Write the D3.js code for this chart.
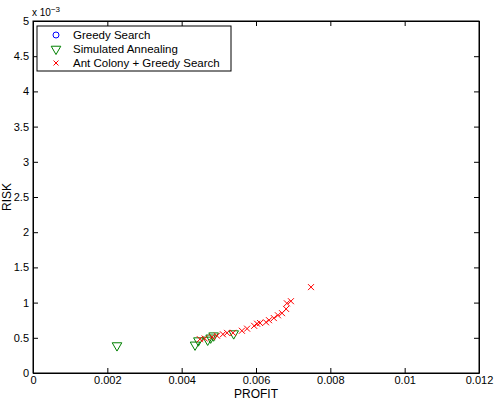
<!DOCTYPE html>
<html><head><meta charset="utf-8">
<script src="https://cdn.jsdelivr.net/npm/d3@7"></script>
<style>body{margin:0;background:#fff}svg{display:block}text{font-family:"Liberation Sans",Arial,sans-serif}</style>
</head><body><svg id="c" width="497" height="403"></svg>
<script>
const xTicks=[0,0.002,0.004,0.006,0.008,0.01,0.012];
const xTickLabels=["0","0.002","0.004","0.006","0.008","0.01","0.012"];
const yTicks=[0,0.5e-3,1e-3,1.5e-3,2e-3,2.5e-3,3e-3,3.5e-3,4e-3,4.5e-3,5e-3];
const yTickLabels=["0","0.5","1","1.5","2","2.5","3","3.5","4","4.5","5"];
const seriesNames=["Greedy Search","Simulated Annealing","Ant Colony + Greedy Search"];
const greedyX=[];
const greedyY=[];
const saX=[0.00226,0.00436,0.00445,0.00470,0.00478,0.00486,0.00540];
const saY=[0.39e-3,0.40e-3,0.46e-3,0.47e-3,0.50e-3,0.53e-3,0.56e-3];
const acoX=[0.00449,0.00462,0.00482,0.00495,0.00511,0.00522,0.00538,0.00562,0.00576,0.00595,0.00603,0.00611,0.00627,0.00635,0.00648,0.00659,0.00670,0.00681,0.00683,0.00694,0.00748];
const acoY=[0.48e-3,0.49e-3,0.51e-3,0.53e-3,0.55e-3,0.57e-3,0.57e-3,0.60e-3,0.63e-3,0.67e-3,0.70e-3,0.71e-3,0.72e-3,0.75e-3,0.78e-3,0.82e-3,0.85e-3,0.91e-3,0.99e-3,1.02e-3,1.22e-3];

const svg=d3.select("#c");
const L=33,R=479,T=21,B=373;
const x=d3.scaleLinear().domain([0,0.012]).range([L,R]);
const y=d3.scaleLinear().domain([0,5e-3]).range([B,T]);
const fs=11;

svg.append("rect").attr("x",L).attr("y",T).attr("width",R-L).attr("height",B-T).attr("fill","#fff").attr("stroke","#000").attr("stroke-width",1);

const xb=d3.axisBottom(x).tickValues(xTicks).tickFormat((d,i)=>xTickLabels[i]).tickSizeInner(-5).tickSizeOuter(0).tickPadding(3);
const gx=svg.append("g").attr("transform",`translate(0,${B})`).call(xb);
const xt=d3.axisTop(x).tickValues(xTicks).tickFormat("").tickSizeInner(-5).tickSizeOuter(0);
const gxt=svg.append("g").attr("transform",`translate(0,${T})`).call(xt);
const yl=d3.axisLeft(y).tickValues(yTicks).tickFormat((d,i)=>yTickLabels[i]).tickSizeInner(-5).tickSizeOuter(0).tickPadding(4);
const gy=svg.append("g").attr("transform",`translate(${L},0)`).call(yl);
const yr=d3.axisRight(y).tickValues(yTicks).tickFormat("").tickSizeInner(-5).tickSizeOuter(0);
const gyr=svg.append("g").attr("transform",`translate(${R},0)`).call(yr);
[gx,gxt,gy,gyr].forEach(g=>{g.select(".domain").attr("stroke","#000");g.selectAll("text").attr("font-size",fs).attr("font-family","Liberation Sans, Arial, sans-serif").attr("fill","#000");});

const ex=svg.append("text").attr("x",32).attr("y",16).attr("font-size",10);
ex.append("tspan").text("x 10");
ex.append("tspan").attr("dy",-4).attr("font-size",8).text("−3");

svg.append("text").attr("x",(L+R)/2).attr("y",398).attr("text-anchor","middle").attr("font-size",12).text("PROFIT");
svg.append("text").attr("transform",`translate(11,${(T+B)/2}) rotate(-90)`).attr("text-anchor","middle").attr("font-size",12).text("RISK");

const plot=svg.append("g");
plot.selectAll(".gs").data(greedyX.map((v,i)=>[v,greedyY[i]])).join("circle").attr("cx",d=>x(d[0])).attr("cy",d=>y(d[1])).attr("r",3).attr("fill","none").attr("stroke","#0000ff");
const tri=d3.symbol().type(d3.symbolTriangle).size(40);
plot.selectAll(".sa").data(saX.map((v,i)=>[v,saY[i]])).join("path").attr("d",tri).attr("transform",d=>`translate(${x(d[0])},${y(d[1])}) rotate(180)`).attr("fill","none").attr("stroke","#008000").attr("stroke-width",1);
const cr=3;
plot.selectAll(".aco").data(acoX.map((v,i)=>[v,acoY[i]])).join("path").attr("d",d=>{const cx=x(d[0]),cy=y(d[1]);return `M${cx-cr},${cy-cr}L${cx+cr},${cy+cr}M${cx-cr},${cy+cr}L${cx+cr},${cy-cr}`;}).attr("stroke","#ff0000").attr("stroke-width",1).attr("fill","none");

const lg=svg.append("g");
lg.append("rect").attr("x",37).attr("y",26).attr("width",194).attr("height",45).attr("fill","#fff").attr("stroke","#000");
const ly=[35,49,63];
lg.append("circle").attr("cx",56).attr("cy",ly[0]).attr("r",3).attr("fill","none").attr("stroke","#0000ff");
lg.append("path").attr("d",tri).attr("transform",`translate(56,${ly[1]}) rotate(180)`).attr("fill","none").attr("stroke","#008000");
lg.append("path").attr("d",`M${56-2.5},${ly[2]-2.5}L${56+2.5},${ly[2]+2.5}M${56-2.5},${ly[2]+2.5}L${56+2.5},${ly[2]-2.5}`).attr("stroke","#ff0000");
seriesNames.forEach((s,i)=>lg.append("text").attr("x",73).attr("y",ly[i]+4).attr("font-size",11.5).text(s));
</script></body></html>
